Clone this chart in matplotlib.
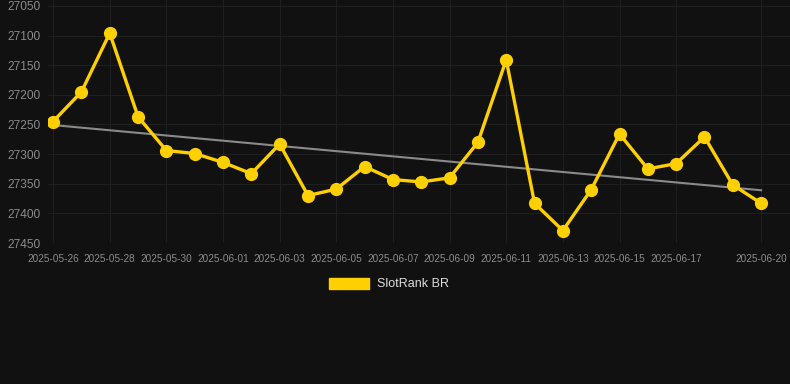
import matplotlib
matplotlib.use("Agg")
import matplotlib.pyplot as plt
import matplotlib.dates as mdates
import datetime as dt

plt.rcParams['font.family'] = ['Liberation Sans', 'DejaVu Sans']

dates = [dt.date(2025, 5, 26) + dt.timedelta(days=i) for i in range(26)]
ranks = [27245, 27195, 27096, 27237, 27294, 27299, 27314, 27333, 27283, 27370,
         27359, 27321, 27343, 27347, 27340, 27280, 27141, 27383, 27429, 27360,
         27266, 27325, 27316, 27271, 27352, 27383]
trend_dates = [dates[0], dates[-1]]
trend_vals = [27251, 27361]

tick_dates = [dt.date(2025, 5, 26) + dt.timedelta(days=2 * i) for i in range(12)] + [dt.date(2025, 6, 20)]
y_ticks = [27050, 27100, 27150, 27200, 27250, 27300, 27350, 27400, 27450]

bg = '#111111'
fig = plt.figure(figsize=(7.9, 3.84), dpi=100, facecolor=bg)
ax = fig.add_axes([48 / 790, 1 - 243 / 384, 742 / 790, 243 / 384])
ax.set_facecolor(bg)

ax.plot(trend_dates, trend_vals, color='#8a8a8a', lw=1.5, zorder=2)
ax.plot(dates, ranks, color='#ffd000', lw=2.4, marker='o', ms=8.5, zorder=3)

ax.set_xlim(mdates.date2num(dates[0]) - 0.18, mdates.date2num(dates[-1]) + 1.02)
ax.set_ylim(27450, 27040)
ax.set_yticks(y_ticks)
ax.set_xticks(tick_dates)
ax.xaxis.set_major_formatter(mdates.DateFormatter('%Y-%m-%d'))

ax.grid(True, color='#1f1f1f', lw=0.8)
for s in ax.spines.values():
    s.set_visible(False)
ax.tick_params(axis='y', colors='#8c8c8c', labelsize=8.6, length=0, pad=5)
ax.tick_params(axis='x', colors='#8c8c8c', labelsize=7.2, length=0, pad=8)

fig.legend([plt.Rectangle((0, 0), 1, 1, color='#ffd000')], ['SlotRank BR'],
           loc='center', bbox_to_anchor=(389 / 790, 1 - 284 / 384),
           frameon=False, fontsize=9, labelcolor='#dddddd',
           handlelength=3.2, handleheight=1.0, handletextpad=0.6)

fig.savefig('out.png', dpi=100, facecolor=bg)
